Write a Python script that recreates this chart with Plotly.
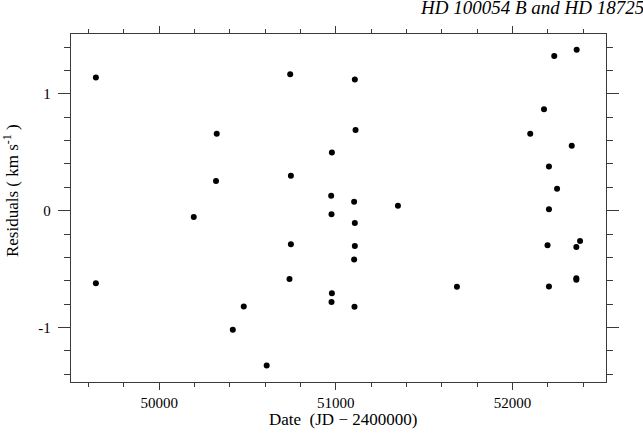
import plotly.graph_objects as go

# Julian date offsets (JD - 2400000) and residuals (km/s)
dates = [49642, 49642, 50196, 50322, 50326, 50417, 50479, 50609,
         50742, 50746, 50746, 50738,
         50978, 50974, 50976, 50978, 50976,
         51108, 51112, 51104, 51108, 51108, 51104, 51106,
         51352, 51686,
         52101, 52179, 52207, 52253, 52207, 52199, 52207,
         52237, 52364, 52336, 52383, 52362, 52362, 52362]
residuals = [1.140, -0.621, -0.054, 0.254, 0.658, -1.020, -0.820, -1.325,
             1.168, 0.299, -0.288, -0.584,
             0.499, 0.128, -0.031, -0.706, -0.783,
             1.123, 0.690, 0.077, -0.105, -0.302, -0.419, -0.823,
             0.043, -0.652,
             0.658, 0.869, 0.379, 0.188, 0.012, -0.296, -0.649,
             1.325, 1.379, 0.556, -0.259, -0.310, -0.578, -0.592]

x_ticks = [50000, 51000, 52000]
x_tick_labels = ["50000", "51000", "52000"]
y_ticks = [-1, 0, 1]
y_tick_labels = ["-1", "0", "1"]

title_text = "HD 100054 B and HD 187258"
x_label = "Date  (JD \u2212 2400000)"
y_label = "Residuals ( km s<sup>-1</sup> )"

FONT = "Liberation Serif"
AX = "#3a3a3a"

fig = go.Figure()
fig.add_trace(go.Scatter(
    x=dates, y=residuals, mode="markers",
    marker=dict(color="black", size=6),
    showlegend=False, hoverinfo="x+y"))

fig.update_layout(
    width=643, height=439,
    margin=dict(l=71, r=37, t=34, b=57),
    paper_bgcolor="white", plot_bgcolor="white",
    font=dict(family=FONT, size=14, color="black"),
    xaxis=dict(
        range=[49501, 52530], showgrid=False, zeroline=False,
        showline=True, linecolor=AX, linewidth=1.3, mirror="ticks",
        ticks="outside", ticklen=7, tickwidth=1.2, tickcolor=AX,
        tickvals=x_ticks, ticktext=x_tick_labels,
        tickfont=dict(family=FONT, size=15),
        minor=dict(dtick=200, tick0=0, ticks="outside", ticklen=4,
                   tickwidth=1.2, tickcolor=AX, showgrid=False),
    ),
    yaxis=dict(
        range=[-1.467, 1.513], showgrid=False, zeroline=False,
        showline=True, linecolor=AX, linewidth=1.3, mirror="ticks",
        ticks="outside", ticklen=12, tickwidth=1.2, tickcolor=AX,
        tickvals=y_ticks, ticktext=y_tick_labels,
        ticklabelstandoff=4,
        tickfont=dict(family=FONT, size=15),
        minor=dict(dtick=0.2, tick0=0, ticks="outside", ticklen=6,
                   tickwidth=1.2, tickcolor=AX, showgrid=False),
    ),
    annotations=[
        dict(text=title_text, xref="paper", yref="paper",
             x=0.6486, y=1.077, xanchor="left", yanchor="middle",
             showarrow=False,
             font=dict(family=FONT, size=19, style="italic", color="black")),
        dict(text=x_label, xref="paper", yref="paper",
             x=0.508, y=-0.109, xanchor="center", yanchor="middle",
             showarrow=False, font=dict(family=FONT, size=17)),
        dict(text=y_label, xref="paper", yref="paper",
             x=-0.112, y=0.549, xanchor="center", yanchor="middle",
             textangle=-90, showarrow=False, font=dict(family=FONT, size=17)),
    ],
)

fig.write_html("out.html")
